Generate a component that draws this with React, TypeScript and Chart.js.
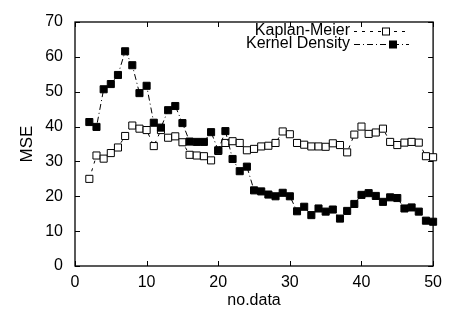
import React, { useEffect, useRef } from "react";
import { Chart, registerables } from "chart.js";

Chart.register(...registerables);

const xValues = [
  2, 3, 4, 5, 6, 7, 8, 9, 10, 11, 12, 13, 14, 15, 16, 17, 18, 19, 20, 21, 22, 23, 24, 25, 26,
  27, 28, 29, 30, 31, 32, 33, 34, 35, 36, 37, 38, 39, 40, 41, 42, 43, 44, 45, 46, 47, 48, 49, 50,
];

const kaplanMeier = [
  25, 31.7, 30.8, 32.4, 34, 37.3, 40.3, 39.4, 39, 34.4, 39, 36.8, 37.2, 35.5, 31.9, 31.7, 31.5,
  30.3, 33, 35.3, 35.8, 35.3, 33.2, 33.6, 34.3, 34.5, 35.3, 38.6, 37.8, 35.3, 34.8, 34.3, 34.3,
  34.2, 35.2, 34.7, 32.6, 37.7, 40, 37.9, 38.3, 39.4, 35.6, 34.7, 35.4, 35.6, 35.4, 31.5, 31.2,
];

const kernelDensity = [
  41.3, 39.9, 50.7, 52.2, 54.8, 61.6, 57.6, 49.6, 51.7, 41.1, 39.7, 44.7, 45.9, 41, 35.7, 35.6,
  35.6, 38.4, 33.2, 38.7, 30.7, 27.2, 28.5, 21.7, 21.4, 20.5, 20, 21, 20, 15.7, 17, 14.6, 16.5,
  15.6, 16.2, 13.6, 15.8, 17.8, 20.4, 20.9, 20.1, 18.4, 19.7, 19.5, 16.5, 16.8, 15.6, 13, 12.7,
];

const seriesNames = ["Kaplan-Meier", "Kernel Density"];
const xTickValues = [0, 10, 20, 30, 40, 50];
const yTickValues = [0, 10, 20, 30, 40, 50, 60, 70];

const FONT = "'Liberation Sans', Arial, Helvetica, sans-serif";
const KM_DASH = [3, 5];
const KD_DASH = [6, 3, 1, 3];

const framePlugin = {
  id: "frameTicks",
  beforeDatasetsDraw(chart: any) {
    const { ctx, chartArea } = chart;
    const { left, right, top, bottom } = chartArea;
    const xs = chart.scales.x;
    const ys = chart.scales.y;
    const tl = 5;
    ctx.save();
    ctx.strokeStyle = "#000";
    ctx.lineWidth = 1.3;
    ctx.setLineDash([]);
    ctx.strokeRect(left, top, right - left, bottom - top);
    ctx.lineWidth = 1;
    ctx.beginPath();
    xTickValues.forEach((v) => {
      const px = Math.round(xs.getPixelForValue(v)) + 0.5;
      ctx.moveTo(px, bottom);
      ctx.lineTo(px, bottom - tl);
      ctx.moveTo(px, top);
      ctx.lineTo(px, top + tl);
    });
    yTickValues.forEach((v) => {
      const py = Math.round(ys.getPixelForValue(v)) + 0.5;
      ctx.moveTo(left, py);
      ctx.lineTo(left + tl, py);
      ctx.moveTo(right, py);
      ctx.lineTo(right - tl, py);
    });
    ctx.stroke();
    ctx.restore();
  },
};

const legendPlugin = {
  id: "insideLegend",
  afterDraw(chart: any) {
    const { ctx } = chart;
    const textRight = 350;
    const lineStart = 354;
    const lineEnd = 409;
    const rows = [
      { y: 31, dash: KM_DASH, fill: "#fff", mx: 386 },
      { y: 44, dash: KD_DASH, fill: "#000", mx: 393 },
    ];
    ctx.save();
    ctx.font = `16px ${FONT}`;
    ctx.fillStyle = "#000";
    ctx.textAlign = "right";
    ctx.textBaseline = "middle";
    rows.forEach((r, i) => {
      ctx.fillText(seriesNames[i], textRight, r.y);
      ctx.strokeStyle = "#000";
      ctx.lineWidth = 1;
      ctx.setLineDash(r.dash);
      ctx.beginPath();
      ctx.moveTo(lineStart, r.y + 0.5);
      ctx.lineTo(lineEnd, r.y + 0.5);
      ctx.stroke();
      ctx.setLineDash([]);
      ctx.fillStyle = r.fill;
      ctx.fillRect(r.mx - 3.5, r.y - 3, 7, 7);
      ctx.strokeRect(r.mx - 3.5, r.y - 3, 7, 7);
      ctx.fillStyle = "#000";
    });
    ctx.restore();
  },
};

export default function App() {
  const canvasRef = useRef<HTMLCanvasElement | null>(null);

  useEffect(() => {
    const canvas = canvasRef.current;
    if (!canvas) return;
    const chart = new Chart(canvas, {
      type: "line",
      data: {
        datasets: [
          {
            label: seriesNames[0],
            data: xValues.map((x, i) => ({ x, y: kaplanMeier[i] })),
            borderColor: "#000",
            borderWidth: 1,
            borderDash: KM_DASH,
            pointStyle: "rect",
            pointRadius: 5,
            pointBorderWidth: 1,
            pointBackgroundColor: "#fff",
            pointBorderColor: "#000",
            tension: 0,
            clip: false,
            order: 1,
          } as any,
          {
            label: seriesNames[1],
            data: xValues.map((x, i) => ({ x, y: kernelDensity[i] })),
            borderColor: "#000",
            borderWidth: 1,
            borderDash: KD_DASH,
            pointStyle: "rect",
            pointRadius: 5,
            pointBorderWidth: 1,
            pointBackgroundColor: "#000",
            pointBorderColor: "#000",
            tension: 0,
            clip: false,
            order: 0,
          } as any,
        ],
      },
      options: {
        responsive: false,
        animation: false,
        devicePixelRatio: 1,
        layout: { padding: { top: 22, right: 13, left: 0, bottom: 0 } },
        plugins: {
          legend: { display: false },
          tooltip: { enabled: false },
        },
        scales: {
          x: {
            type: "linear",
            min: 0,
            max: 50,
            afterBuildTicks: (s: any) => {
              s.ticks = xTickValues.map((v) => ({ value: v }));
            },
            afterFit: (s: any) => {
              s.height = 52;
            },
            ticks: {
              color: "#000",
              font: { family: FONT, size: 16 },
              padding: 7,
              maxRotation: 0,
            },
            grid: { display: false, drawTicks: false },
            border: { display: false },
            title: {
              display: true,
              text: "no.data",
              color: "#000",
              font: { family: FONT, size: 16 },
              padding: { top: 0, bottom: 8 },
            },
          },
          y: {
            type: "linear",
            min: 0,
            max: 70,
            afterBuildTicks: (s: any) => {
              s.ticks = yTickValues.map((v) => ({ value: v }));
            },
            afterFit: (s: any) => {
              s.width = 75;
            },
            ticks: {
              color: "#000",
              font: { family: FONT, size: 16 },
              padding: 12,
            },
            grid: { display: false, drawTicks: false },
            border: { display: false },
            title: {
              display: true,
              text: "MSE",
              color: "#000",
              font: { family: FONT, size: 17 },
              padding: { top: 17, bottom: 0 },
            },
          },
        },
      } as any,
      plugins: [framePlugin, legendPlugin],
    });
    return () => chart.destroy();
  }, []);

  return (
    <div style={{ position: "fixed", left: 0, top: 0, width: 449, height: 318, background: "#fff" }}>
      <canvas ref={canvasRef} width={449} height={318} style={{ width: 449, height: 318 }} />
    </div>
  );
}
